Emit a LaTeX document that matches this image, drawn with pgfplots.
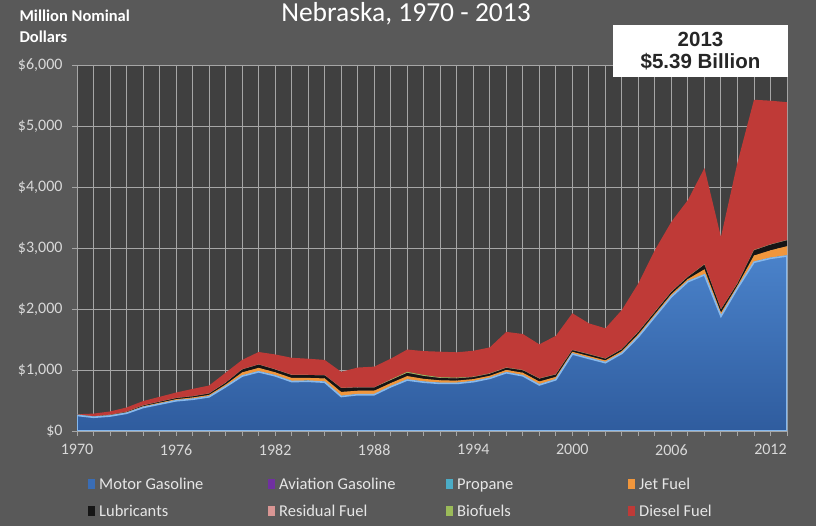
\documentclass[border=0pt]{standalone}
\usepackage{fontspec}
\setmainfont{Carlito}
\newfontfamily\arialfont{Liberation Sans}
\usepackage{pgfplots}
\pgfplotsset{compat=1.18}
\usepackage{pgfplotstable}

\definecolor{outerbg}{HTML}{595959}
\definecolor{plotbg}{HTML}{404040}
\definecolor{gridc}{HTML}{A6A6A6}
\definecolor{ticktext}{HTML}{D9D9D9}
\definecolor{legtext}{HTML}{E6E6E6}
\definecolor{cMotor}{HTML}{3A6DB5}
\definecolor{cMotorTop}{HTML}{4A82CA}
\definecolor{cMotorBot}{HTML}{2F5C9E}
\definecolor{cMotorHi}{HTML}{86B8EC}
\definecolor{cAvgas}{HTML}{7030A0}
\definecolor{cPropane}{HTML}{4BACC6}
\definecolor{cJet}{HTML}{F0963C}
\definecolor{cLube}{HTML}{151515}
\definecolor{cResid}{HTML}{D99694}
\definecolor{cBio}{HTML}{9BBB59}
\definecolor{cDiesel}{HTML}{BF3A37}

% million nominal dollars, stacked in legend order
\pgfplotstableread{
year motor avgas propane jet lube resid bio diesel
1970  255 5 5   2  2 3  0    3
1971  225 5 5   1  1 3  0   45
1972  245 5 5   4  3 3  0   55
1973  290 5 5   6  6 3  0   70
1974  385 5 5  11 11 3  0   70
1975  440 5 5  14 13 3  0   80
1976  495 5 5  16 16 3  0   90
1977  520 5 5  19 18 3  0  120
1978  560 5 5  21 21 3  0  130
1979  725 5 5  26 26 3  0  165
1980  900 5 5  50 47 3  0  155
1981  970 5 5  55 52 3  0  205
1982  905 5 5  47 45 3  0  245
1983  810 5 5  50 47 3  0  280
1984  815 5 5  45 45 3  0  267
1985  800 5 5  52 50 3  0  250
1986  565 5 5  65 62 3  0  265
1987  595 5 5  55 52 3  0  325
1988  595 5 5  55 52 3  0  340
1989  725 5 5  50 47 3 10  340
1990  835 5 5  55 52 3 15  365
1991  800 5 5  45 45 3 15  392
1992  780 5 5  40 37 3 10  420
1993  780 5 5  36 36 3 10  415
1994  808 5 5  32 32 3  5  425
1995  863 5 5  32 32 3  5  425
1996  955 5 5  35 34 3  3  585
1997  905 5 5  40 39 3  3  590
1998  755 5 5  46 45 3  3  558
1999  840 5 5  37 37 3  3  630
2000 1262 5 5  26 26 3  3  600
2001 1190 5 5  28 28 3  3  503
2002 1120 5 5  27 27 3  3  493
2003 1273 5 5  28 27 3  3  640
2004 1546 5 5  33 33 3  3  793
2005 1874 5 5  33 33 3  3 1011
2006 2202 5 5  33 33 3  3 1147
2007 2448 5 5  33 33 3  3 1257
2008 2560 5 5  80 76 3  3 1578
2009 1880 5 5  50 49 3  3 1185
2010 2340 5 5  33 32 3  3 1979
2011 2766 5 5 100 85 3  3 2463
2012 2831 5 5 120 93 3  3 2355
2013 2869 5 5 150 96 3  3 2259
}\fueldata

\begin{document}
\begin{tikzpicture}
\useasboundingbox (0pt,0pt) rectangle (816pt,526pt);
\fill[outerbg] (0pt,0pt) rectangle (816pt,526pt);

\begin{axis}[
    at={(77pt,95pt)}, anchor=south west,
    scale only axis, width=710pt, height=366pt,
    xmin=1970, xmax=2013, ymin=0, ymax=6000,
    stack plots=y,
    axis background/.style={fill=plotbg},
    axis x line*=bottom, axis y line*=left,
    axis line style={gridc, line width=0.8pt},
    xtick={1970,1976,...,2012},
    xticklabels={1970,1976,1982,1988,1994,2000,2006,2012},
    minor xtick={1970,...,2013},
    ytick={0,1000,...,6000},
    yticklabels={{\$0},{\$1,000},{\$2,000},{\$3,000},{\$4,000},{\$5,000},{\$6,000}},
    grid=both,
    major grid style={gridc, line width=0.8pt},
    minor grid style={gridc, line width=0.8pt},
    tick align=outside,
    major tick length=5pt, minor tick length=5pt,
    tick style={gridc, line width=0.8pt},
    ticklabel style={font=\fontsize{16}{19}\selectfont, text=ticktext},
    xticklabel style={yshift=-5pt},
    yticklabel style={xshift=-6pt},
]
\addplot[draw=cMotorHi, line width=1.6pt, top color=cMotorTop, bottom color=cMotorBot]
    table[x=year, y=motor] {\fueldata} \closedcycle;
\addplot[fill=cAvgas, draw=none] table[x=year, y=avgas] {\fueldata} \closedcycle;
\addplot[fill=cPropane, draw=none] table[x=year, y=propane] {\fueldata} \closedcycle;
\addplot[fill=cJet, draw=none] table[x=year, y=jet] {\fueldata} \closedcycle;
\addplot[fill=cLube, draw=none] table[x=year, y=lube] {\fueldata} \closedcycle;
\addplot[fill=cResid, draw=none] table[x=year, y=resid] {\fueldata} \closedcycle;
\addplot[fill=cBio, draw=none] table[x=year, y=bio] {\fueldata} \closedcycle;
\addplot[fill=cDiesel, draw=none] table[x=year, y=diesel] {\fueldata} \closedcycle;
\end{axis}

\begin{scope}[x=1pt, y=1pt]
% title and axis caption
\node[anchor=base, text=white, font=\fontsize{27.5}{32}\selectfont] at (406,504) {Nebraska, 1970 - 2013};
\node[anchor=base west, text=white, font=\bfseries\fontsize{16.5}{19}\selectfont] at (16,504) {Million Nominal};
\node[anchor=base west, text=white, font=\bfseries\fontsize{16.5}{19}\selectfont] at (16,483) {Dollars};

% callout box
\fill[white] (613,449) rectangle (788,501);
\node[align=center, text=black!85, font=\arialfont\bfseries\fontsize{20.5}{22}\selectfont] at (700.5,475) {2013\\\$5.39 Billion};

% legend
\foreach \c/\lab/\x/\y in {cMotor/Motor Gasoline/91/42, cAvgas/Aviation Gasoline/271/42,
    cPropane/Propane/449/42, cJet/Jet Fuel/631/42,
    cLube/Lubricants/91/15, cResid/Residual Fuel/271/15,
    cBio/Biofuels/449/15, cDiesel/Diesel Fuel/631/15} {
  \fill[\c] (\x-3.5,\y-5) rectangle (\x+3.5,\y+5);
  \node[anchor=base west, text=legtext, font=\fontsize{16.5}{19}\selectfont, inner sep=0pt] at (\x+8,\y-5.5) {\lab};
}
\end{scope}
\end{tikzpicture}
\end{document}
